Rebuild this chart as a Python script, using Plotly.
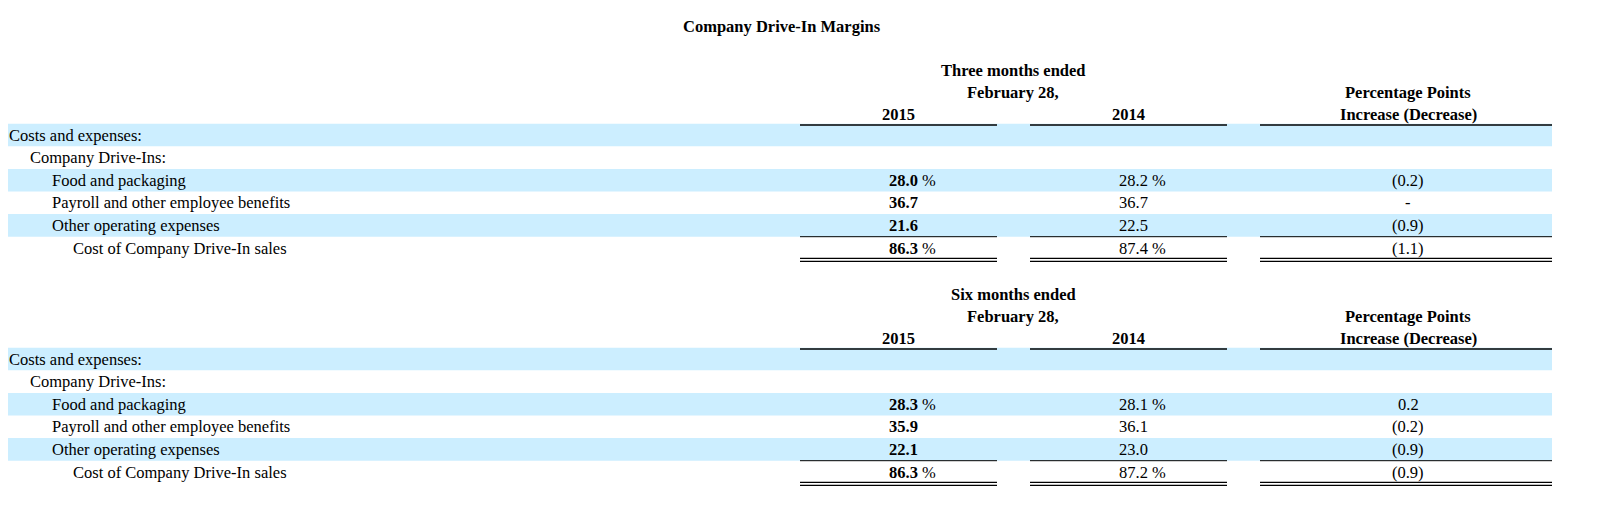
import plotly.graph_objects as go

title = "Company Drive-In Margins"
row_labels = ["Costs and expenses:", "Company Drive-Ins:", "Food and packaging",
              "Payroll and other employee benefits", "Other operating expenses",
              "Cost of Company Drive-In sales"]
row_indent = [0, 1, 2, 2, 2, 3]
period_labels = ["Three months ended", "Six months ended"]
col_years = ["2015", "2014"]
pct_header = ["Percentage Points", "Increase (Decrease)"]

three_2015 = ["28.0", "36.7", "21.6", "86.3"]
three_2014 = ["28.2", "36.7", "22.5", "87.4"]
three_chg = ["(0.2)", "-", "(0.9)", "(1.1)"]
six_2015 = ["28.3", "35.9", "22.1", "86.3"]
six_2014 = ["28.1", "36.1", "23.0", "87.2"]
six_chg = ["0.2", "(0.2)", "(0.9)", "(0.9)"]
pct_sign = [True, False, False, True]

sections = [
    (period_labels[0], three_2015, three_2014, three_chg),
    (period_labels[1], six_2015, six_2014, six_chg),
]

FONT = "Liberation Serif"
FS = 16.5
BLUE = "#cceeff"
W, H = 1600, 510
PAD = 8  # default page body margin
ROW_H = 22.6
SEC_TOP = [70, 294]
cols = [(800, 997), (1030, 1227), (1260, 1552)]

fig = go.Figure()
fig.add_trace(go.Scatter(x=[PAD], y=[PAD], mode="markers", opacity=0, hoverinfo="skip"))
ann = []
shapes = []


def txt(x, y, s, anchor="left", bold=False):
    ann.append(dict(x=x, y=y, xref="x", yref="y", text=f"<b>{s}</b>" if bold else s,
                    showarrow=False, xanchor=anchor, yanchor="middle", borderpad=0,
                    font=dict(family=FONT, size=FS, color="black")))


def hline(x0, x1, y, w=1.3):
    shapes.append(dict(type="line", xref="x", yref="y", x0=x0, x1=x1, y0=y, y1=y,
                       line=dict(color="black", width=w)))


txt(782, 26, title, "center", True)

for si, (period, v15, v14, chg) in enumerate(sections):
    top = SEC_TOP[si]
    txt(1013, top, period, "center", True)
    txt(1013, top + 22, "February 28,", "center", True)
    txt(898, top + 44, col_years[0], "center", True)
    txt(1128, top + 44, col_years[1], "center", True)
    txt(1408, top + 22, pct_header[0], "center", True)
    txt(1408, top + 44, pct_header[1], "center", True)
    for c0, c1 in cols:
        hline(c0, c1, top + 55)
    r0 = top + 65
    for i, lab in enumerate(row_labels):
        y = r0 + i * ROW_H
        if i % 2 == 0:
            shapes.append(dict(type="rect", xref="x", yref="y", x0=8, x1=1552,
                               y0=y - ROW_H / 2, y1=y + ROW_H / 2,
                               fillcolor=BLUE, line=dict(width=0), layer="below"))
        txt(8 + 21.3 * row_indent[i], y, lab)
        if i >= 2:
            k = i - 2
            txt(919, y, v15[k], "right", True)
            txt(1149, y, v14[k], "right")
            if pct_sign[k]:
                txt(921, y, "%")
                txt(1151, y, "%")
            txt(1408, y, chg[k], "center")
    ytot = r0 + 5 * ROW_H
    for c0, c1 in cols:
        hline(c0, c1, ytot - ROW_H / 2, 1)
        hline(c0, c1, ytot + ROW_H / 2 - 1, 1.3)
        hline(c0, c1, ytot + ROW_H / 2 + 2, 1.3)

fig.update_layout(
    width=W - 2 * PAD, height=H - 2 * PAD, margin=dict(l=0, r=0, t=0, b=0),
    plot_bgcolor="white", paper_bgcolor="white", showlegend=False,
    xaxis=dict(range=[PAD, W - PAD], visible=False, fixedrange=True),
    yaxis=dict(range=[H - PAD, PAD], visible=False, fixedrange=True),
    annotations=ann, shapes=shapes,
)
fig.write_html("out.html")
